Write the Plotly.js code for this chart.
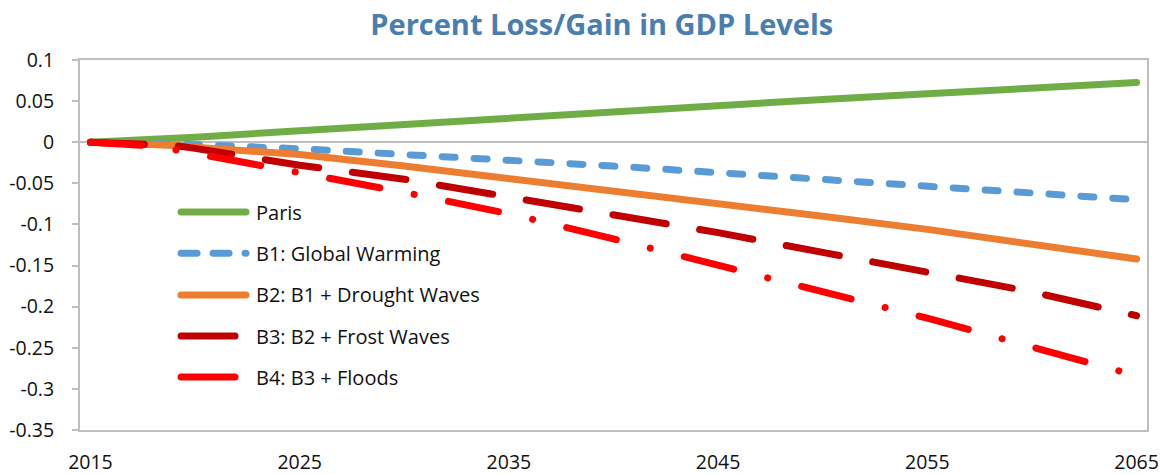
<!DOCTYPE html>
<html>
<head>
<meta charset="utf-8">
<script src="https://cdn.plot.ly/plotly-3.0.1.min.js"></script>
<style>
  html, body { margin: 0; padding: 0; background: #fff; }
  #chart { width: 1164px; height: 474px; }
  /* rounded ends on series lines and legend samples */
  .scatterlayer .js-line, .shapelayer path { stroke-linecap: round; }
</style>
</head>
<body>
<div id="chart"></div>
<script>
// GDP level deviation (percent) by scenario
const years = [2015, 2016, 2017, 2018, 2019, 2020, 2025, 2030, 2035, 2040, 2045, 2050, 2055, 2060, 2065];
const paris = [0, 0.001, 0.002, 0.0035, 0.0045, 0.006, 0.014, 0.022, 0.030, 0.037, 0.045, 0.052, 0.059, 0.066, 0.0725];
const b1GlobalWarming = [0, -0.0003, -0.001, -0.0015, -0.002, -0.003, -0.008, -0.0145, -0.0215, -0.029, -0.037, -0.045, -0.053, -0.061, -0.070];
const b2Drought = [0, -0.0005, -0.0015, -0.003, -0.004, -0.006, -0.015, -0.029, -0.044, -0.058, -0.074, -0.090, -0.106, -0.124, -0.142];
const b3Frost = [0, -0.0005, -0.001, -0.002, -0.004, -0.0075, -0.028, -0.045, -0.066, -0.087, -0.110, -0.134, -0.158, -0.182, -0.211];
const b4Floods = [0, -0.001, -0.002, -0.0045, -0.009, -0.014, -0.037, -0.061, -0.087, -0.1175, -0.149, -0.181, -0.214, -0.249, -0.284];

const seriesNames = ['Paris', 'B1: Global Warming', 'B2: B1 + Drought Waves', 'B3: B2 + Frost Waves', 'B4: B3 + Floods'];
const xTickVals = [2015, 2025, 2035, 2045, 2055, 2065];
const yTickVals = [0.1, 0.05, 0, -0.05, -0.1, -0.15, -0.2, -0.25, -0.3, -0.35];
const yTickText = ['0.1', '0.05', '0', '-0.05', '-0.1', '-0.15', '-0.2', '-0.25', '-0.3', '-0.35'];
// minor category ticks on the zero axis
const zeroAxisTicks = [2028.5, 2042.5, 2056.5];

const seriesValues = [paris, b1GlobalWarming, b2Drought, b3Frost, b4Floods];
const colors = ['#70AD47', '#5B9BD5', '#ED7D31', '#C00000', '#FF0000'];
const dashes = ['solid', '13px,19px', 'solid', '54px,34px', '51px,35px,0.1px,35px'];
const legendDashes = ['solid', '16px,16px', 'solid', 'solid', 'solid'];
const legendLineEnd = [0.1556, 0.1556, 0.1556, 0.1453, 0.1453];
const legendRowY = [0.589, 0.478, 0.365, 0.254, 0.143];

const font = 'Open Sans, Noto Sans, sans-serif';
const yMin = -0.35, yMax = 0.1;
const axisGray = '#bfbfbf';
const textColor = '#111';

const traces = seriesValues.map((vals, i) => ({
  type: 'scatter',
  mode: 'lines',
  x: years,
  y: vals,
  name: seriesNames[i],
  line: { color: colors[i], width: 7, dash: dashes[i] },
  hoverinfo: 'skip'
}));

const shapes = seriesNames.map((_, i) => ({
  type: 'line',
  xref: 'paper', yref: 'paper',
  x0: 0.0947, x1: legendLineEnd[i],
  y0: legendRowY[i], y1: legendRowY[i],
  line: { color: colors[i], width: 7, dash: legendDashes[i] }
}));

const annotations = seriesNames.map((name, i) => ({
  xref: 'paper', yref: 'paper',
  x: 0.163, y: legendRowY[i],
  xanchor: 'left', yanchor: 'middle',
  text: name,
  showarrow: false,
  font: { family: font, size: 20, color: textColor }
}));

const layout = {
  width: 1164,
  height: 474,
  margin: { l: 80, r: 17, t: 60, b: 44 },
  paper_bgcolor: '#fff',
  plot_bgcolor: '#fff',
  showlegend: false,
  font: { family: font, size: 19.5, color: textColor },
  title: {
    text: 'Percent Loss/Gain in GDP Levels',
    font: { family: font, size: 29, color: '#4a7eb0', weight: 'bold' },
    x: 0.489, xref: 'paper', xanchor: 'center',
    y: 0.948, yref: 'container', yanchor: 'middle'
  },
  xaxis: {
    range: [2014.5, 2065.5],
    tickvals: xTickVals,
    ticks: '',
    showline: true, mirror: true, linecolor: axisGray, linewidth: 2,
    showgrid: false, zeroline: false,
    ticklabelstandoff: 14,
    tickfont: { family: font, size: 19.5, color: textColor }
  },
  xaxis2: {
    overlaying: 'x',
    anchor: 'free',
    position: (0 - yMin) / (yMax - yMin),
    side: 'top',
    range: [2014.5, 2065.5],
    tickvals: zeroAxisTicks,
    ticks: 'outside', ticklen: 6, tickwidth: 2, tickcolor: axisGray,
    showticklabels: false, showline: false, showgrid: false, zeroline: false
  },
  yaxis: {
    range: [yMin, yMax],
    tickvals: yTickVals,
    ticktext: yTickText,
    ticks: 'outside', ticklen: 6, tickwidth: 2, tickcolor: axisGray,
    showline: true, mirror: true, linecolor: axisGray, linewidth: 2,
    showgrid: false,
    zeroline: true, zerolinecolor: axisGray, zerolinewidth: 2,
    ticklabelstandoff: 14,
    tickfont: { family: font, size: 19.5, color: textColor }
  },
  shapes: shapes,
  annotations: annotations
};

Plotly.newPlot('chart', traces, layout, { staticPlot: true, displayModeBar: false });
</script>
</body>
</html>
